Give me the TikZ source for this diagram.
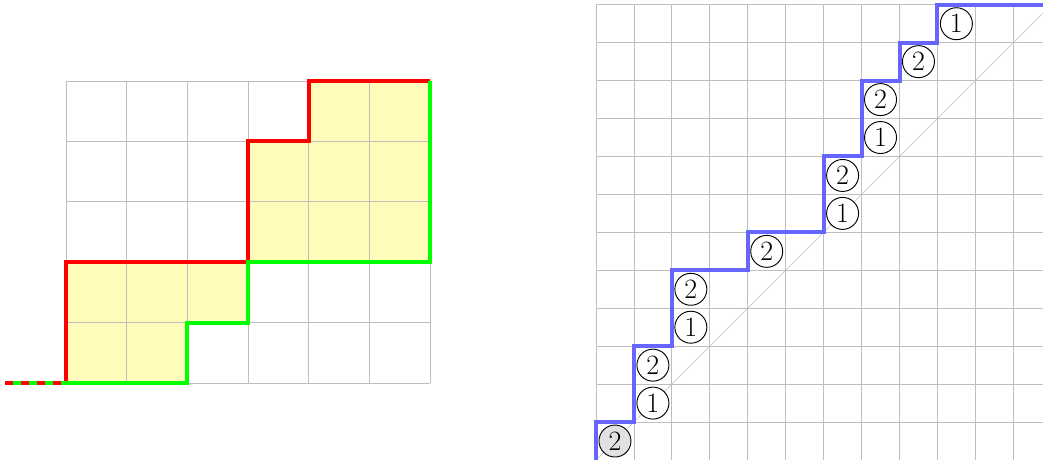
\documentclass[tikz,border=0pt]{standalone}
\usepackage{fontspec}
\definecolor{fillyellow}{RGB}{255,250,120}
\definecolor{gridgray}{RGB}{190,190,190}
\definecolor{pathblue}{RGB}{102,102,255}
\definecolor{circgray}{RGB}{225,225,225}
\tikzset{
  gridline/.style={draw=gridgray, line width=0.6pt},
  diagline/.style={draw=gridgray, line width=0.5pt},
  redpath/.style={draw=red, line width=3pt},
  greenpath/.style={draw=green, line width=3pt},
  bluepath/.style={draw=pathblue, line width=3pt},
  mark circ/.style={draw, circle, line width=0.7pt, minimum size=24pt, inner sep=0pt, fill=white, font=\fontsize{21}{24}\selectfont},
}
\begin{document}
\begin{tikzpicture}[x=0.75pt,y=0.75pt]
\useasboundingbox (0,0) rectangle (1043,460);
\clip (0,0) rectangle (1043,460);
% ---------- left picture ----------
\begin{scope}[shift={(66,77)},x=45.5pt,y=45.3pt]
  \fill[fillyellow, fill opacity=0.5] (0,0) -- (2,0) -- (2,1) -- (3,1) -- (3,2) -- (6,2) -- (6,5) -- (4,5) -- (4,4) -- (3,4) -- (3,2) -- (0,2) -- cycle;
  \draw[gridline, step=1] (0,0) grid (6,5);
  \draw[redpath] (0,0) -- (0,2) -- (3,2) -- (3,4) -- (4,4) -- (4,5) -- (6,5);
  \draw[greenpath] (-1,0) -- (2,0) -- (2,1) -- (3,1) -- (3,2) -- (6,2) -- (6,5);
  \draw[redpath, dash pattern=on 6pt off 6pt] (-1,0) -- (0,0);
\end{scope}
% ---------- right picture ----------
\begin{scope}[shift={(596,0)},x=1cm,y=1cm]
  \draw[gridline, step=1] (0,0) grid (12,12);
  \draw[diagline] (0,0) -- (12,12);
  \draw[bluepath] (0,0) -- (0,1) -- (1,1) -- (1,3) -- (2,3) -- (2,5) -- (4,5) -- (4,6) -- (6,6) -- (6,8) -- (7,8) -- (7,10) -- (8,10) -- (8,11) -- (9,11) -- (9,12) -- (12,12);
  \node[mark circ, fill=circgray] (c1) at (0.5,0.5) {2};
  \node[mark circ] (c2) at (1.5,1.5) {1};
  \node[mark circ] (c3) at (1.5,2.5) {2};
  \node[mark circ] (c4) at (2.5,3.5) {1};
  \node[mark circ] (c5) at (2.5,4.5) {2};
  \node[mark circ] (c6) at (4.5,5.5) {2};
  \node[mark circ] (c7) at (6.5,6.5) {1};
  \node[mark circ] (c8) at (6.5,7.5) {2};
  \node[mark circ] (c9) at (7.5,8.5) {1};
  \node[mark circ] (c10) at (7.5,9.5) {2};
  \node[mark circ] (c11) at (8.5,10.5) {2};
  \node[mark circ] (c12) at (9.5,11.5) {1};
\end{scope}
\end{tikzpicture}
\end{document}
